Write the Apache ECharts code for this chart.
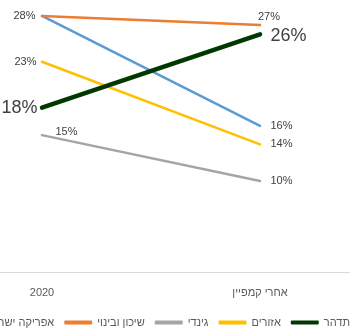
<!DOCTYPE html>
<html>
<head>
  <meta charset="utf-8">
  <title>chart</title>
  <style>
    html, body { margin: 0; padding: 0; background: #fff; }
    #main { width: 350px; height: 329px; }
  </style>
</head>
<body>
  <div id="main"></div>
  <script src="https://cdn.jsdelivr.net/npm/echarts@6/dist/echarts.min.js"></script>
  <script type="text/javascript">
    // categories (x axis)
    var categories = ['2020', 'אחרי קמפיין'];

    // series values, in %
    var africa = [28, 16];
    var shikun = [28, 27];
    var gindi = [15, 10];
    var azorim = [23, 14];
    var tidhar = [18, 26];

    var names = ['אפריקה ישראל', 'שיכון ובינוי', 'גינדי', 'אזורים', 'תדהר'];
    var colors = ['#5B9BD5', '#ED7D31', '#A5A5A5', '#FFC000', '#003800'];

    var font = '"Liberation Sans", Arial, sans-serif';

    function smallLabel(pos, extra) {
      var l = { show: true, position: pos, distance: 6, fontSize: 11, color: '#404040', fontFamily: font, formatter: '{c}%' };
      for (var k in extra) l[k] = extra[k];
      return l;
    }

    function points(values, labels) {
      return values.map(function (v, i) {
        return { value: v, label: labels[i] };
      });
    }

    function makeSeries(idx, values, labels, width) {
      return {
        name: names[idx],
        type: 'line',
        data: points(values, labels),
        symbol: 'circle',
        symbolSize: 1,
        showSymbol: true,
        itemStyle: { color: colors[idx] },
        lineStyle: { color: colors[idx], width: width, cap: 'round' },
        emphasis: { disabled: true },
        animation: false
      };
    }

    var chart = echarts.init(document.getElementById('main'));
    chart.setOption({
      animation: false,
      grid: { left: -67, right: -19, top: -2.4, bottom: 56.3, containLabel: false, outerBoundsMode: 'none' },
      xAxis: {
        type: 'category',
        data: categories,
        axisLine: { lineStyle: { color: '#D9D9D9', width: 1 } },
        axisTick: { show: false },
        axisLabel: { color: '#595959', fontSize: 11, fontFamily: font, margin: 15 }
      },
      yAxis: {
        type: 'value',
        min: 0,
        max: 30,
        show: false,
        splitLine: { show: false }
      },
      legend: {
        data: names,
        bottom: -4,
        right: -5,
        width: 600,
        itemWidth: 28,
        itemHeight: 4,
        itemGap: 10,
        icon: 'roundRect',
        textStyle: { color: '#595959', fontSize: 11, fontFamily: font }
      },
      series: [
        // the 28% of the first point is shared with the orange line, shown once
        makeSeries(0, africa, [smallLabel('left', { show: false }), smallLabel('right', { distance: 10 })], 2.5),
        makeSeries(1, shikun, [smallLabel('left'), smallLabel('top', { offset: [9, 0], distance: 2 })], 2.5),
        makeSeries(2, gindi, [smallLabel('right', { distance: 13, offset: [0, -3] }), smallLabel('right', { distance: 10 })], 2.5),
        makeSeries(3, azorim, [smallLabel('left', { distance: 5 }), smallLabel('right', { distance: 10 })], 2.5),
        makeSeries(4, tidhar, [
          smallLabel('left', { fontSize: 18, distance: 4 }),
          smallLabel('right', { fontSize: 18, distance: 10, offset: [0, 2] })
        ], 4.5)
      ]
    });
  </script>
</body>
</html>
